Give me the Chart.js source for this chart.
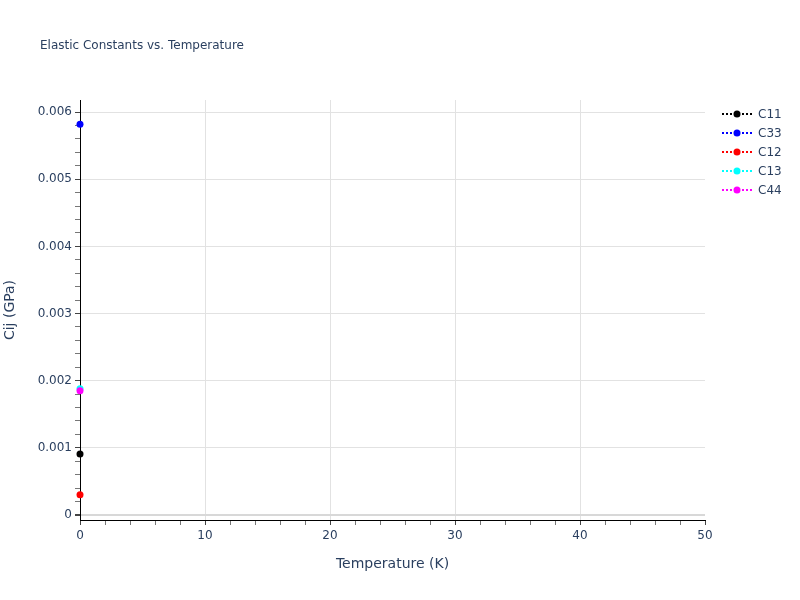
<!DOCTYPE html>
<html>
<head>
<meta charset="utf-8">
<script src="https://cdn.jsdelivr.net/npm/chart.js@4.4.1/dist/chart.umd.min.js"></script>
<style>
  html, body { margin: 0; padding: 0; background: #fff; }
  #wrap { width: 800px; height: 600px; }
</style>
</head>
<body>
<div id="wrap"><canvas id="chart" width="800" height="600"></canvas></div>
<script>
// data (all at T = 0 K)
var temperatures = [0];
var seriesNames = ["C11", "C33", "C12", "C13", "C44"];
var seriesColors = ["#000000", "#0000ff", "#ff0000", "#00ffff", "#ff00ff"];
var c11 = [0.00091];
var c33 = [0.00582];
var c12 = [0.0003];
var c13 = [0.00188];
var c44 = [0.00185];
var seriesValues = [c11, c33, c12, c13, c44];

var xTickValues = [0, 10, 20, 30, 40, 50];
var yTickLabels = ["0", "0.001", "0.002", "0.003", "0.004", "0.005", "0.006"];

var textColor = "#2a3f5f";
var fontFamily = "'DejaVu Sans', Verdana, sans-serif";

// build datasets
var datasets = seriesNames.map(function (name, i) {
  return {
    label: name,
    data: temperatures.map(function (t, j) { return { x: t, y: seriesValues[i][j] }; }),
    borderColor: seriesColors[i],
    backgroundColor: seriesColors[i],
    borderDash: [2, 2],
    borderWidth: 2,
    pointRadius: 3.5,
    pointBorderWidth: 0,
    showLine: true,
    clip: false,
    order: seriesNames.length - i
  };
});

// minor ticks every 2 K and every 0.0002 GPa
function xTicks() {
  var out = [];
  for (var i = 0; i <= 25; i++) out.push({ value: i * 2 });
  return out;
}
function yTicks() {
  var out = [];
  for (var i = 0; i <= 30; i++) out.push({ value: Math.round(i * 2) / 10000 });
  return out;
}
function isMajorY(v) { return Math.abs(v * 1000 - Math.round(v * 1000)) < 1e-9; }
function isMajorX(v) { return v % 10 === 0; }

// title + legend like the original
var decorPlugin = {
  id: "decor",
  afterDraw: function (chart) {
    var ctx = chart.ctx;
    ctx.save();
    ctx.fillStyle = textColor;
    ctx.font = "12px " + fontFamily;
    ctx.textBaseline = "middle";
    ctx.textAlign = "left";
    ctx.fillText("Elastic Constants vs. Temperature", 40, 46);

    chart.data.datasets.forEach(function (ds, i) {
      var y = 114 + i * 19;
      ctx.strokeStyle = ds.borderColor;
      ctx.lineWidth = 2;
      ctx.setLineDash([2, 2]);
      ctx.beginPath();
      ctx.moveTo(722, y);
      ctx.lineTo(752, y);
      ctx.stroke();
      ctx.setLineDash([]);
      ctx.fillStyle = ds.backgroundColor;
      ctx.beginPath();
      ctx.arc(737, y, 3.5, 0, Math.PI * 2);
      ctx.fill();
      ctx.fillStyle = textColor;
      ctx.fillText(ds.label, 758, y + 1);
    });
    ctx.restore();
  }
};

var ctx = document.getElementById("chart").getContext("2d");
var chart = new Chart(ctx, {
  type: "scatter",
  data: { datasets: datasets },
  plugins: [decorPlugin],
  options: {
    responsive: false,
    animation: false,
    maintainAspectRatio: false,
    layout: { padding: { left: 0, right: 95, top: 100, bottom: 0 } },
    plugins: {
      legend: { display: false },
      title: { display: false },
      tooltip: { enabled: false }
    },
    scales: {
      x: {
        type: "linear",
        min: 0,
        max: 50,
        afterBuildTicks: function (scale) { scale.ticks = xTicks(); },
        afterFit: function (scale) { scale.height = 80; },
        border: { display: true, color: "#000000", width: 1 },
        grid: {
          color: function (c) {
            var v = c.tick ? c.tick.value : 0;
            return isMajorX(v) && v !== 0 && v !== 50 ? "#e2e2e2" : "rgba(0,0,0,0)";
          },
          tickColor: function (c) {
            var v = c.tick ? c.tick.value : 0;
            return isMajorX(v) ? "#444444" : "#777777";
          },
          tickLength: 5,
          lineWidth: 1
        },
        ticks: {
          autoSkip: false,
          maxRotation: 0,
          padding: 4,
          color: textColor,
          font: { family: fontFamily, size: 12 },
          callback: function (v) { return xTickValues.indexOf(v) >= 0 ? String(v) : ""; }
        },
        title: {
          display: true,
          text: "Temperature (K)",
          color: textColor,
          font: { family: fontFamily, size: 14 },
          padding: { top: 0, bottom: 27 }
        }
      },
      y: {
        type: "linear",
        min: -0.0000745,
        max: 0.00618,
        afterBuildTicks: function (scale) { scale.ticks = yTicks(); },
        afterFit: function (scale) { scale.width = 80; },
        border: { display: true, color: "#000000", width: 1 },
        grid: {
          color: function (c) {
            var v = c.tick ? c.tick.value : 1;
            if (v === 0) return "#d8d8d8";
            return isMajorY(v) ? "#e2e2e2" : "rgba(0,0,0,0)";
          },
          lineWidth: function (c) {
            var v = c.tick ? c.tick.value : 1;
            return v === 0 ? 2 : 1;
          },
          tickColor: function (c) {
            var v = c.tick ? c.tick.value : 1;
            return isMajorY(v) ? "#444444" : "#777777";
          },
          tickLength: 5
        },
        ticks: {
          autoSkip: false,
          padding: 3,
          color: textColor,
          font: { family: fontFamily, size: 12 },
          callback: function (v) {
            if (!isMajorY(v)) return "";
            return yTickLabels[Math.round(v * 1000)];
          }
        },
        title: {
          display: true,
          text: "Cij (GPa)",
          color: textColor,
          font: { family: fontFamily, size: 14 },
          padding: { top: 2, bottom: 0 }
        }
      }
    }
  }
});
</script>
</body>
</html>
